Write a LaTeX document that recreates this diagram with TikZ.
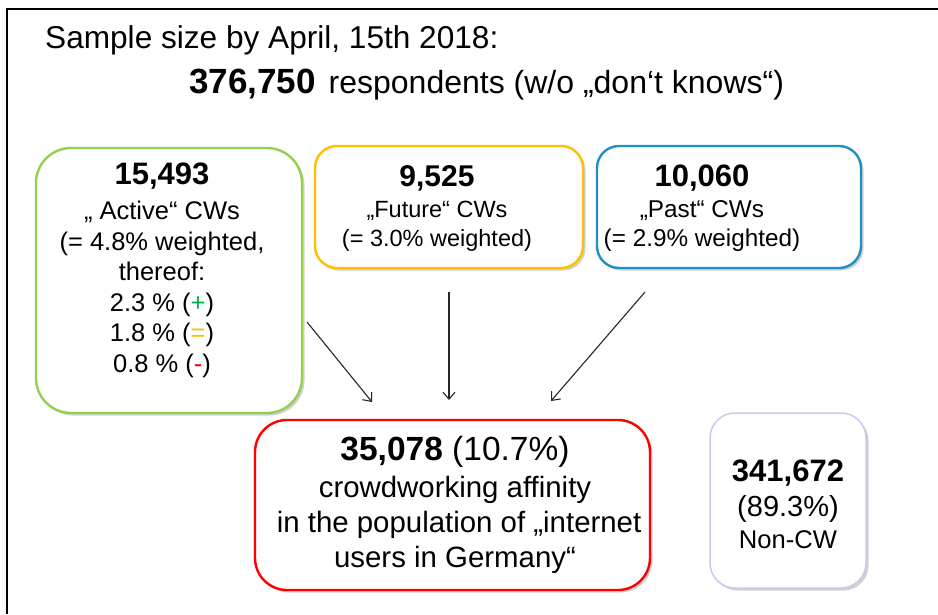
\documentclass[tikz,border=0pt]{standalone}
\usepackage{fontspec}
\setmainfont{Liberation Sans}
\usetikzlibrary{arrows.meta,shadows}
\definecolor{cwgreen}{HTML}{92D050}
\definecolor{cwyellow}{HTML}{FFC000}
\definecolor{cwblue}{HTML}{1F8FC8}
\definecolor{cwred}{HTML}{FF0000}
\definecolor{cwlav}{HTML}{CFC8EE}
\definecolor{plusgreen}{HTML}{00B050}
\tikzset{
  cwbox/.style={draw, line width=2.4pt, fill=white, rectangle, inner sep=0pt,
    drop shadow={shadow xshift=2.5pt, shadow yshift=-2.5pt, opacity=0.3, fill=black!60}},
  cwtext/.style={align=center, inner sep=0pt, anchor=north},
  cwarrow/.style={draw=black!85, line width=1.1pt, -{Straight Barb[length=7pt,width=12pt]}},
}
\newcommand{\fs}[2]{\fontsize{#1}{#2}\selectfont}
\begin{document}
\begin{tikzpicture}[x=1pt,y=-1pt]
\useasboundingbox (0,0) rectangle (938,614);
\fill[white] (0,0) rectangle (938,614);
\draw[line width=1.5pt] (7,614) -- (7,9) -- (938,9);

% title
\node[anchor=base west, inner sep=0pt] (title1) at (45,48) {\fs{31.6}{36}Sample size by April, 15th 2018:};
\node[anchor=base west, inner sep=0pt] (title2) at (189,93) {{\fs{35}{40}\bfseries 376,750}\hspace{13pt}{\fs{32}{36}respondents (w/o „don‘t knows“)}};

% boxes
\node[cwbox, draw=cwgreen, rounded corners=35pt, minimum width=266pt, minimum height=265pt] (green) at (169,280.5) {};
\node[cwbox, draw=cwyellow, rounded corners=22pt, minimum width=268pt, minimum height=122pt] (yellow) at (449,207) {};
\node[cwbox, draw=cwblue, rounded corners=22pt, minimum width=264pt, minimum height=122pt] (blue) at (729,207) {};
\node[cwbox, draw=cwred, rounded corners=32pt, minimum width=395pt, minimum height=170pt] (red) at (452.5,505) {};
\node[cwbox, draw=cwlav, line width=1.5pt, rounded corners=25pt, minimum width=156pt, minimum height=175pt] (noncw) at (788,500.5) {};

% texts
\node[cwtext, font=\fs{25.5}{30.5}] (greentext) at (162,163)
  {{\fs{31}{31}\bfseries 15,493}\\[4.5pt]
   „ Active“ CWs\\
   (= 4.8\% weighted,\\
   thereof:\\
   2.3 \% ({\color{plusgreen}+})\\
   1.8 \% ({\color{cwyellow}=})\\
   0.8 \% ({\color{cwred}-})};
\node[cwtext, font=\fs{23.5}{29}] (yellowtext) at (437,165)
  {{\fs{30}{30}\bfseries 9,525}\\[2pt]
   „Future“ CWs\\
   (= 3.0\% weighted)};
\node[cwtext, font=\fs{24.3}{29}] (bluetext) at (702,165)
  {{\fs{31}{31}\bfseries 10,060}\\[2pt]
   „Past“ CWs\\
   (= 2.9\% weighted)};
\node[cwtext, font=\fs{29.4}{35}] (redtext) at (455,436)
  {{\fs{33.5}{33.5}{\bfseries 35,078} (10.7\%)}\\[2pt]
   crowdworking affinity\\
   \ in the population of „internet\\
   users in Germany“};
\node[cwtext, font=\fs{25.6}{32}] (noncwtext) at (788,460)
  {{\fs{31}{31}\bfseries 341,672}\\[3pt]
   {\fs{29}{32}(89.3\%)}\\
   Non-CW};

% arrows
\coordinate (a1s) at (307,322);
\coordinate (a1e) at (372,402);
\coordinate (a2s) at (449,292);
\coordinate (a2e) at (449,400);
\coordinate (a3s) at (645,292);
\coordinate (a3e) at (551,401);
\draw[cwarrow] (a1s) -- (a1e);
\draw[cwarrow] (a2s) -- (a2e);
\draw[cwarrow] (a3s) -- (a3e);
\end{tikzpicture}
\end{document}
